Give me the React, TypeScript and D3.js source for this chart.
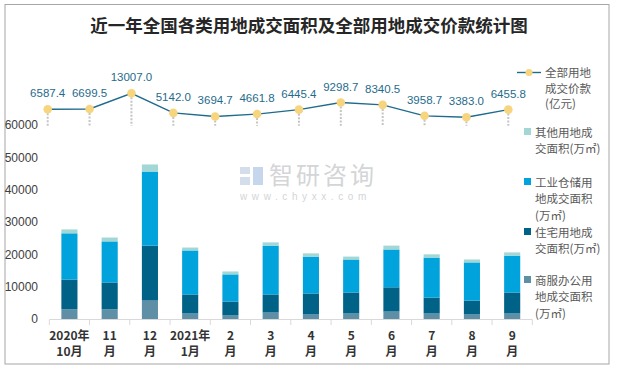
import * as d3 from 'd3';

const categories = ['2020年10月', '11月', '12月', '2021年1月', '2月', '3月', '4月', '5月', '6月', '7月', '8月', '9月'];
const tickLines = [
  ['2020年', '10月'], ['11', '月'], ['12', '月'], ['2021年', '1月'], ['2', '月'], ['3', '月'],
  ['4', '月'], ['5', '月'], ['6', '月'], ['7', '月'], ['8', '月'], ['9', '月'],
];

// 万㎡
const commercial = [3000, 3000, 5700, 1700, 1100, 2000, 1400, 1700, 2300, 1700, 1400, 1700];
const residential = [9200, 8300, 17000, 5900, 4300, 5600, 6500, 6500, 7500, 4900, 4300, 6500];
const industrial = [14300, 12700, 22900, 13600, 8400, 15100, 11400, 10200, 11700, 12400, 11800, 11400];
const other = [1200, 1200, 2200, 900, 900, 1000, 1000, 900, 1200, 1000, 900, 1000];

// 亿元
const totalPrice = [6587.4, 6699.5, 13007.0, 5142.0, 3694.7, 4661.8, 6445.4, 9298.7, 8340.5, 3958.7, 3383.0, 6455.8];

const yTicks = [0, 10000, 20000, 30000, 40000, 50000, 60000];

const priceLabel = ['全部用地', '成交价款', '(亿元)'];
const barSeries = [
  { key: 'commercial', values: commercial, color: '#5f8fa6', label: ['商服办公用', '地成交面积', '(万㎡)'] },
  { key: 'residential', values: residential, color: '#006287', label: ['住宅用地成', '交面积(万㎡)'] },
  { key: 'industrial', values: industrial, color: '#00a3dc', label: ['工业仓储用', '地成交面积', '(万㎡)'] },
  { key: 'other', values: other, color: '#a2d7d5', label: ['其他用地成', '交面积(万㎡)'] },
];

const numFont = '"Liberation Sans", Arial, sans-serif';
const cjkFont = '"Noto Sans CJK SC", sans-serif';

export default function App() {
  const width = 618;
  const height = 370;

  const x = d3.scaleBand<string>().domain(categories).range([49.3, 532.3]).paddingInner(0.6).paddingOuter(0.3);
  const y = d3.scaleLinear().domain([0, 60000]).range([319, 125]);
  const xLine = d3.scalePoint<string>().domain(categories).range([47.7, 508.3]);
  const yLine = d3.scaleLinear().domain([0, 14000]).range([125.7, 90.8]);

  const stacked = d3.stack<number>()
    .keys(barSeries.map((s) => s.key))
    .value((i, key) => barSeries.find((s) => s.key === key)!.values[i])(d3.range(categories.length));

  const line = d3.line<number>()
    .x((_, i) => xLine(categories[i])!)
    .y((d) => yLine(d));

  const step = x.step();
  const left = 49.3;

  const legendRows = [
    { s: barSeries[3], y0: 132 },
    { s: barSeries[2], y0: 182 },
    { s: barSeries[1], y0: 232 },
    { s: barSeries[0], y0: 280 },
  ];

  return (
    <svg width={width} height={height} style={{ position: 'absolute', left: 0, top: 0, background: '#fff' }}>
      <rect x={5} y={4.5} width={604} height={359.5} fill="#fff" stroke="#a6a6a6" strokeWidth={1} />
      <text x={309} y={32} textAnchor="middle" fontFamily={cjkFont} fontWeight="bold" fontSize={17.5} fill="#262626">
        近一年全国各类用地成交面积及全部用地成交价款统计图
      </text>

      {/* watermark */}
      <g opacity={0.5}>
        <rect x={240} y={167} width={10} height={7} fill="#a9bcd8" />
        <rect x={240} y={177} width={10} height={8} fill="#a9bcd8" />
        <rect x={253} y={167} width={10} height={18} fill="#8fb1dd" />
        <text x={269} y={184} fontFamily={cjkFont} fontSize={24} fill="#a8acb0" letterSpacing={3}>智研咨询</text>
        <text x={240} y={200} fontFamily={numFont} fontSize={10} fill="#a8acb0" letterSpacing={4.6}>www.chyxx.com</text>
      </g>

      {yTicks.map((t) => (
        <text key={t} x={38} y={y(t)} dy="0.35em" textAnchor="end" fontFamily={numFont} fontSize={12} fill="#404040">
          {t}
        </text>
      ))}

      {stacked.map((layer, si) => (
        <g key={layer.key} fill={barSeries[si].color}>
          {layer.map((d, i) => (
            <rect key={i} x={x(categories[i])} y={y(d[1])} width={x.bandwidth()} height={y(d[0]) - y(d[1])} />
          ))}
        </g>
      ))}

      <line x1={left} x2={left + step * categories.length} y1={319.5} y2={319.5} stroke="#d9d9d9" />
      {d3.range(categories.length + 1).map((i) => (
        <line key={i} x1={left + i * step} x2={left + i * step} y1={319.5} y2={325} stroke="#d9d9d9" />
      ))}
      {categories.map((c, i) => (
        <text key={c} x={x(c)! + x.bandwidth() / 2} textAnchor="middle" fontFamily={cjkFont} fontSize={12} fontWeight={600} fill="#333">
          <tspan x={x(c)! + x.bandwidth() / 2} y={340}>{tickLines[i][0]}</tspan>
          <tspan x={x(c)! + x.bandwidth() / 2} y={356}>{tickLines[i][1]}</tspan>
        </text>
      ))}

      {/* price line */}
      {totalPrice.map((v, i) => (
        <line key={i} x1={xLine(categories[i])} x2={xLine(categories[i])} y1={yLine(v) + 4} y2={yLine(0)}
          stroke="#c4c4c4" strokeWidth={2} strokeDasharray="2,1.5" />
      ))}
      <path d={line(totalPrice)!} fill="none" stroke="#1f6b8c" strokeWidth={1.4} />
      {totalPrice.map((v, i) => (
        <g key={i}>
          <circle cx={xLine(categories[i])} cy={yLine(v)} r={4.3} fill="#f7d47e" />
          <text x={xLine(categories[i])} y={yLine(v) - 12} textAnchor="middle" fontFamily={numFont} fontSize={11.5} fill="#1f6b8c">
            {v.toFixed(1)}
          </text>
        </g>
      ))}

      {/* legend */}
      <g fontFamily={cjkFont} fontSize={11.5} fill="#595959">
        <line x1={517} x2={541} y1={72.5} y2={72.5} stroke="#1f6b8c" strokeWidth={1.4} />
        <circle cx={529} cy={72.5} r={3.5} fill="#f7d47e" />
        <text>
          {priceLabel.map((l, li) => (
            <tspan key={li} x={545} y={77 + li * 15.5}>{l}</tspan>
          ))}
        </text>
        {legendRows.map(({ s, y0 }) => (
          <g key={s.key}>
            <rect x={524} y={y0 - 4} width={7} height={7} fill={s.color} />
            <text>
              {s.label.map((l, li) => (
                <tspan key={li} x={535} y={y0 + 4.5 + li * 16.5}>{l}</tspan>
              ))}
            </text>
          </g>
        ))}
      </g>
    </svg>
  );
}
